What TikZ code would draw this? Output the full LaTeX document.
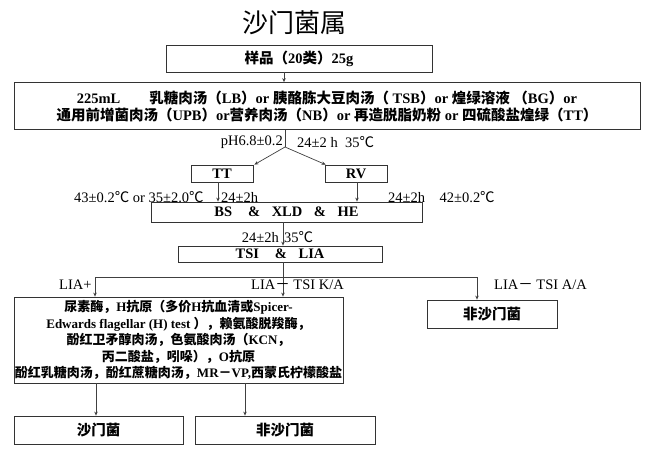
\documentclass[tikz,border=0pt]{standalone}
\usepackage{fontspec}
\setmainfont{Liberation Serif}
\newfontfamily\zhfont{Noto Sans CJK SC}
\newcommand\zh[1]{{\zhfont #1}}
\usetikzlibrary{arrows.meta}
\begin{document}
\begin{tikzpicture}[x=1pt,y=-1pt,
 box/.style={draw=black!80, line width=0.8pt, inner sep=0pt, font=\bfseries\fontsize{14.5}{17}\selectfont, align=center},
 lab/.style={inner sep=0pt, font=\fontsize{14.5}{16}\selectfont},
 arr/.style={draw=black!75, line width=0.7pt, -{Stealth[length=4pt,width=3.5pt]}},
 ln/.style={draw=black!75, line width=0.7pt}]
\useasboundingbox (0,0) rectangle (650,450);
\fill[white] (0,0) rectangle (650,450);
\node[font=\zhfont\fontsize{26}{26}\selectfont, inner sep=0pt] (title) at (294,23) {沙门菌属};
\node[box, minimum width=266pt, minimum height=27pt] (sample) at (299,58.5) {\zh{样品（}20\zh{类）}25g};
\node[box, minimum width=626pt, minimum height=47pt] (enrich) at (327,106) {225mL\hspace{2em}\zh{乳糖肉汤（}LB\zh{）}or \zh{胰酪胨大豆肉汤（} TSB\zh{）}or \zh{煌绿溶液} \zh{（}BG\zh{）}or\\ \zh{通用前增菌肉汤（}UPB\zh{）}or\zh{营养肉汤（}NB\zh{）}or \zh{再造脱脂奶粉} or \zh{四硫酸盐煌绿（}TT\zh{）}};
\node[box, minimum width=62pt, minimum height=17pt] (TT) at (222,173.5) {TT};
\node[box, minimum width=62pt, minimum height=17pt] (RV) at (356,173.5) {RV};
\node[box, minimum width=271pt, minimum height=20pt] (BS) at (286.5,212) {BS\hspace{1.1em}\&\hspace{0.8em}XLD\hspace{0.8em}\&\hspace{0.8em}HE};
\node[box, minimum width=204pt, minimum height=16pt] (TSI) at (280,254) {TSI\hspace{1.1em}\&\hspace{0.8em}LIA};
\node[box, minimum width=329pt, minimum height=86pt, font=\bfseries\fontsize{13}{16.6}\selectfont] (big) at (178.5,340) {\zh{尿素酶，}H\zh{抗原（多价}H\zh{抗血清或}Spicer-\\ Edwards flagellar (H) test \zh{），赖氨酸脱羧酶，}\\ \zh{酚红卫矛醇肉汤，色氨酸肉汤（}KCN\zh{，}\\ \zh{丙二酸盐，吲哚），}O\zh{抗原}\\ \zh{酚红乳糖肉汤，酚红蔗糖肉汤，}MR\zh{－}VP,\zh{西蒙氏柠檬酸盐}};
\node[box, minimum width=130pt, minimum height=28pt] (nonsalr) at (492,314) {\zh{非沙门菌}};
\node[box, minimum width=169pt, minimum height=28pt] (sal) at (98.5,430) {\zh{沙门菌}};
\node[box, minimum width=180pt, minimum height=28pt] (nonsal) at (285,430) {\zh{非沙门菌}};
% connectors
\coordinate (x284) at (284,0);
\draw[arr] (sample.south -| x284) -- (enrich.north -| x284);
\coordinate (split) at (285,147);
\draw[ln] (enrich.south -| split) -- (split);
\draw[arr] (split) -- ([xshift=1pt]TT.north east);
\draw[arr] (split) -- ([xshift=1pt]RV.north west);
\coordinate (xTT) at (218,0);
\draw[arr] (TT.south -| xTT) -- (BS.north -| xTT);
\coordinate (xRV) at (357,0);
\draw[arr] (RV.south -| xRV) -- (BS.north -| xRV);
\coordinate (xc) at (283,277);
\draw[arr] (BS.south -| xc) -- (TSI.north -| xc);
\draw[ln] (TSI.south -| xc) -- (xc);
\coordinate (hl) at (95,277);
\coordinate (hr) at (477,277);
\draw[ln] (hl) -- (hr);
\draw[arr] (hl) -- (big.north -| hl);
\draw[arr] (xc) -- (big.north -| xc);
\draw[arr] (hr) -- (nonsalr.north -| hr);
\coordinate (xa) at (96,0);
\coordinate (xb) at (245,0);
\draw[arr] (big.south -| xa) -- (sal.north -| xa);
\draw[arr] (big.south -| xb) -- (nonsal.north -| xb);
% labels
\node[lab, anchor=east] (ph) at (283,142) {pH6.8±0.2};
\node[lab, anchor=west] (t1) at (297,142) {24±2 h\ \ 35\zh{℃}};
\node[lab, anchor=west] (t2) at (74,197) {43±0.2\zh{℃} or 35±2.0\zh{℃}};
\node[lab, anchor=west] (t3) at (221,197) {24±2h};
\node[lab, anchor=west] (t4) at (388,197) {24±2h\quad 42±0.2\zh{℃}};
\node[lab, anchor=east] (t5) at (279,237) {24±2h};
\node[lab, anchor=west] (t6) at (284,237) {35\zh{℃}};
\node[lab, anchor=west] (l1) at (59,285) {LIA+};
\node[lab, anchor=west] (l2) at (251,285) {LIA\zh{－} TSI K/A};
\node[lab, anchor=west] (l3) at (494,285) {LIA\zh{－} TSI A/A};
\end{tikzpicture}
\end{document}
